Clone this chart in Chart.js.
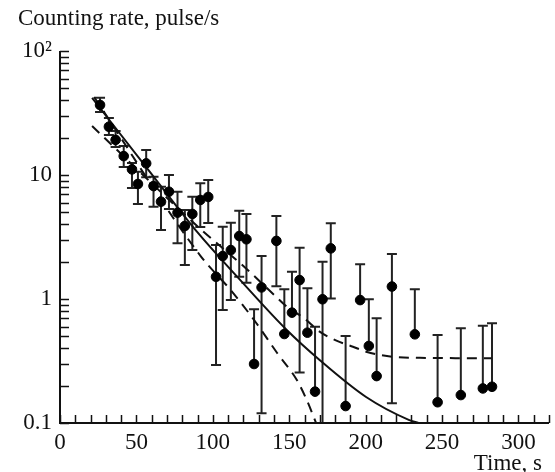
<!DOCTYPE html>
<html lang="en">
<head>
<meta charset="UTF-8">
<title>Counting rate vs time</title>
<script src="https://cdn.jsdelivr.net/npm/chart.js"></script>
<style>
  html, body { margin: 0; padding: 0; background: #fff; }
  #wrap { width: 555px; height: 472px; position: relative; }
</style>
</head>
<body>
<div id="wrap"><canvas id="decay"></canvas></div>
<script>
// measured counting rate (pulse/s) against time (s)
const timeS = [26.2, 32.0, 36.4, 41.7, 47.1, 51.0, 56.4, 61.2, 66.1, 71.3,
  76.9, 81.7, 86.6, 91.8, 97.0, 102.1, 106.5, 111.8, 117.3, 122.0,
  127.0, 131.9, 141.6, 146.8, 151.8, 156.8, 161.9, 166.9, 171.8, 177.2,
  186.9, 196.4, 202.1, 207.2, 217.2, 232.2, 247.1, 262.3, 276.7, 282.7];
const rate = [36.7, 24.5, 19.2, 14.2, 11.1, 8.46, 12.4, 8.15, 6.09, 7.33,
  4.97, 3.88, 4.85, 6.29, 6.65, 1.51, 2.22, 2.48, 3.22, 3.03,
  0.299, 1.24, 2.94, 0.522, 0.776, 1.42, 0.535, 0.179, 0.995, 2.56,
  0.137, 0.98, 0.418, 0.239, 1.26, 0.519, 0.147, 0.168, 0.19, 0.196];
// error bar ends; null in rateLo means only the upper bar is drawn
const rateHi = [42.0, 28.8, 22.6, 17.1, 12.5, 10.6, 15.9, 9.7, 8.05, 10.0,
  7.33, 5.22, 6.68, 8.57, 9.12, 2.73, 3.83, 4.12, 5.15, 4.85,
  0.826, 2.22, 4.67, 1.2, 1.66, 2.59, 1.22, 0.598, 2.0, 4.08,
  0.503, 1.91, 0.994, 0.699, 2.31, 1.2, 0.513, 0.58, 0.609, 0.637];
const rateLo = [32.2, 21.0, 16.8, 11.6, 7.85, 5.84, 9.6, 5.55, 3.6, 5.32,
  2.81, 1.88, 2.48, 3.81, 4.1, 0.294, 0.815, 0.98, 1.51, 1.35,
  null, 0.12, 1.27, null, null, 0.255, null, null, 0.08, 1.01,
  null, null, null, null, 0.144, null, null, null, null, null];

// solid fit
const fitTime = [21.0, 57.9, 90.3, 116.2, 148.4, 169.9, 200.3, 228.2, 234.6];
const fitRate = [41.8, 10.97, 3.41, 1.50, 0.562, 0.322, 0.162, 0.106, 0.1];
// steep dashed curve
const fastTime = [22.3, 92.4, 111.7, 127.0, 142.1, 155.0, 161.5, 167.6];
const fastRate = [42.6, 2.19, 1.18, 0.677, 0.367, 0.222, 0.153, 0.1];
// dashed curve levelling off at background
const bgTime = [21.0, 90.3, 121.4, 140.1, 148.4, 159.5, 169.9, 180.9, 191.7, 200.3, 215.0, 240.0, 282.5];
const bgRate = [24.8, 3.83, 1.78, 1.08, 0.867, 0.703, 0.545, 0.461, 0.412, 0.376, 0.345, 0.335, 0.333];

// axes
const yTicks = [0.1, 0.2, 0.3, 0.4, 0.5, 0.6, 0.7, 0.8, 0.9,
  1, 2, 3, 4, 5, 6, 7, 8, 9,
  10, 20, 30, 40, 50, 60, 70, 80, 90, 100];
const yLabelVals = [0.1, 1, 10, 100];
const yLabelText = ['0.1', '1', '10', '10\u00B2'];
const xMin = 0, xMax = 320, xMinorStep = 10, xLabelStep = 50;

const FONT = '"Liberation Serif", "Times New Roman", serif';
const INK = '#111';

const pts = (xs, ys) => xs.map((v, i) => ({x: v, y: ys[i]}));

const axesAndBars = {
  id: 'axesAndBars',
  beforeDatasetsDraw(chart) {
    const {ctx, chartArea: a, scales: {x, y}} = chart;
    ctx.save();
    ctx.beginPath();
    ctx.rect(a.left, a.top - 10, a.right - a.left, a.bottom - a.top + 10);
    ctx.clip();
    ctx.strokeStyle = '#222';
    ctx.lineWidth = 2;
    timeS.forEach((t, i) => {
      const px = x.getPixelForValue(t);
      const top = y.getPixelForValue(rateHi[i]);
      const hasLo = rateLo[i] !== null;
      const bot = y.getPixelForValue(hasLo ? rateLo[i] : rate[i]);
      ctx.beginPath();
      ctx.moveTo(px, top); ctx.lineTo(px, bot);
      ctx.moveTo(px - 5, top); ctx.lineTo(px + 5, top);
      if (hasLo) { ctx.moveTo(px - 5, bot); ctx.lineTo(px + 5, bot); }
      ctx.stroke();
    });
    ctx.restore();
  },
  afterDraw(chart) {
    const {ctx, chartArea: a, scales: {x, y}} = chart;
    ctx.save();
    ctx.strokeStyle = INK;
    // axis lines
    ctx.lineWidth = 2;
    ctx.beginPath();
    ctx.moveTo(a.left, a.top); ctx.lineTo(a.left, a.bottom); ctx.lineTo(a.right, a.bottom);
    ctx.stroke();
    // inward ticks
    ctx.lineWidth = 1.5;
    ctx.beginPath();
    yTicks.forEach(v => {
      const py = Math.round(y.getPixelForValue(v)) + 0.5;
      ctx.moveTo(a.left, py); ctx.lineTo(a.left + 9, py);
    });
    for (let v = xMin; v <= xMax; v += xMinorStep) {
      const px = Math.round(x.getPixelForValue(v)) + 0.5;
      ctx.moveTo(px, a.bottom); ctx.lineTo(px, a.bottom - 8);
    }
    ctx.stroke();
    // axis captions
    ctx.fillStyle = INK;
    ctx.font = '23px ' + FONT;
    ctx.textBaseline = 'alphabetic';
    ctx.textAlign = 'left';
    ctx.fillText('Counting rate, pulse/s', 18, 25);
    ctx.textAlign = 'right';
    ctx.fillText('Time, s', 542, 470);
    ctx.restore();
  }
};

new Chart(document.getElementById('decay'), {
  type: 'scatter',
  data: {
    datasets: [
      {
        label: 'measured',
        data: pts(timeS, rate),
        backgroundColor: '#000',
        borderColor: '#000',
        pointRadius: 4.8,
        pointHoverRadius: 4.8,
        showLine: false,
        order: 0
      },
      {
        label: 'fit',
        data: pts(fitTime, fitRate),
        showLine: true,
        borderColor: INK,
        borderWidth: 2,
        pointRadius: 0,
        cubicInterpolationMode: 'monotone',
        order: 1
      },
      {
        label: 'fast',
        data: pts(fastTime, fastRate),
        showLine: true,
        borderColor: INK,
        borderWidth: 2,
        borderDash: [10, 7],
        pointRadius: 0,
        cubicInterpolationMode: 'monotone',
        order: 2
      },
      {
        label: 'with background',
        data: pts(bgTime, bgRate),
        showLine: true,
        borderColor: INK,
        borderWidth: 2,
        borderDash: [10, 7],
        pointRadius: 0,
        cubicInterpolationMode: 'monotone',
        order: 3
      }
    ]
  },
  options: {
    responsive: true,
    maintainAspectRatio: false,
    animation: false,
    layout: { padding: { top: 51, right: 0, bottom: 0, left: 0 } },
    plugins: { legend: { display: false }, tooltip: { enabled: false } },
    scales: {
      x: {
        type: 'linear',
        min: xMin,
        max: xMax,
        grid: { display: false, drawTicks: false },
        border: { display: false },
        ticks: {
          stepSize: xMinorStep,
          autoSkip: false,
          maxRotation: 0,
          padding: 6,
          color: INK,
          font: { family: FONT, size: 23 },
          callback: v => (v % xLabelStep === 0 ? String(v) : '')
        },
        afterFit: s => { s.height = 49; }
      },
      y: {
        type: 'logarithmic',
        min: 0.1,
        max: 100,
        grid: { display: false, drawTicks: false },
        border: { display: false },
        afterBuildTicks: s => { s.ticks = yTicks.map(v => ({value: v})); },
        ticks: {
          autoSkip: false,
          padding: 8,
          color: INK,
          font: { family: FONT, size: 23 },
          callback: v => {
            const k = yLabelVals.findIndex(l => Math.abs(l - v) < 1e-9);
            return k >= 0 ? yLabelText[k] : '';
          }
        },
        afterFit: s => { s.width = 60; }
      }
    }
  },
  plugins: [axesAndBars]
});
</script>
</body>
</html>
